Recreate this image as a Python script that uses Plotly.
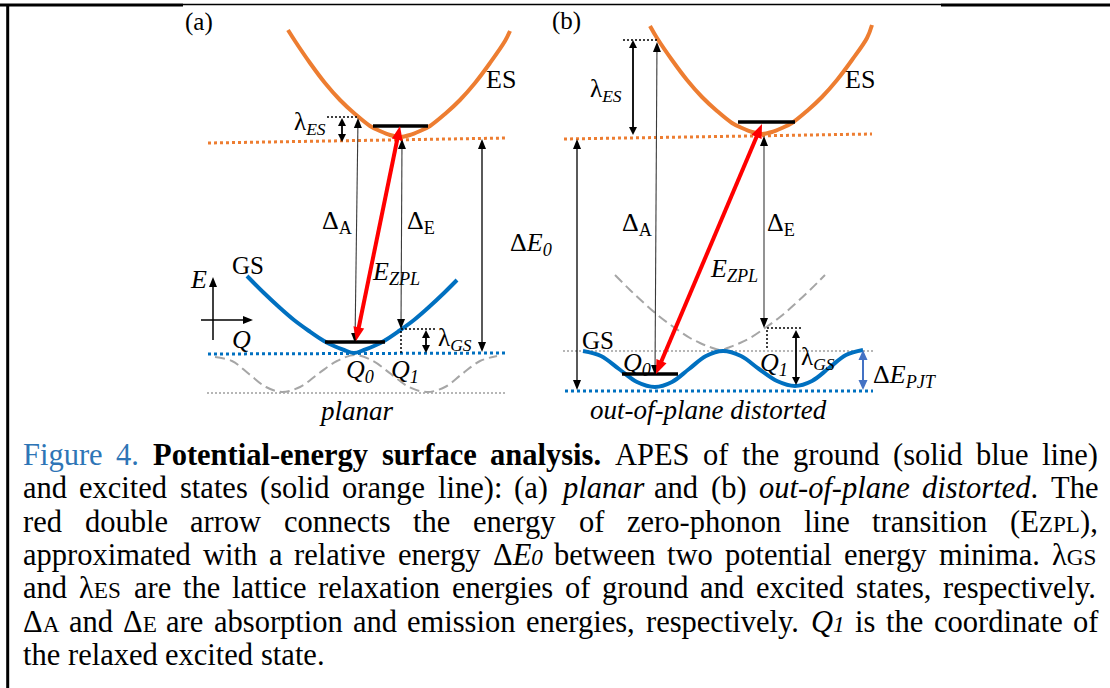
import math
import plotly.graph_objects as go

FIG_W, FIG_H = 1110, 688
SERIF = "Liberation Serif"

ORANGE = "#ED7D31"
GS_BLUE = "#0070C0"
PJT_BLUE = "#4472C4"
DASH_GREY = "#A6A6A6"
DOT_GREY = "#9E9E9E"
RED = "#FF0000"
INK = "#000000"
THIN_INK = "#3A3A3A"
CAPTION_BLUE = "#2E75B6"

# ---------------------------------------------------------------------------
# Adiabatic potential-energy curves (diagram units: Q to the right,
# energy measured downward on the page)
# ---------------------------------------------------------------------------
# (a) planar
es_planar_q = [288, 295, 310, 325, 340, 355, 370, 380, 390, 400, 410, 420, 430, 445, 460, 475, 490, 505, 510]
es_planar_e = [30, 41, 63, 83, 100, 114, 126, 131, 135, 137, 135, 131, 126, 114, 100, 83, 63, 41, 31]
gs_planar_q = [247, 264, 279, 294, 309, 324, 334, 344, 354, 364, 374, 384, 399, 414, 429, 444, 457]
gs_planar_e = [276, 293, 307, 320, 331, 341, 346, 350, 353, 350, 346, 341, 331, 320, 307, 293, 280]
dw_planar_q = [215, 232, 249, 266, 282, 300, 318, 337, 355, 373, 391, 409, 427, 445, 462, 480, 497]
dw_planar_e = [357, 361, 374, 387, 392, 387, 374, 361, 355, 361, 374, 387, 392, 387, 374, 361, 356]

# (b) out-of-plane distorted
es_dist_q = [650, 657, 672, 687, 702, 717, 732, 742, 752, 762, 772, 782, 792, 807, 822, 837, 852, 867, 872]
es_dist_e = [26, 38, 60, 80, 97, 111, 123, 128, 132, 134, 132, 128, 123, 111, 97, 80, 60, 38, 25]
gs_dist_q = [583, 601, 619, 637, 655, 672, 689, 706, 723, 741, 759, 777, 795, 812, 829, 846, 863]
gs_dist_e = [351, 356, 369, 382, 387, 382, 369, 356, 351, 356, 369, 381, 386, 381, 368, 355, 350]
pl_dist_q = [615, 630, 645, 660, 675, 690, 700, 710, 720, 730, 740, 750, 765, 780, 795, 810, 825]
pl_dist_e = [275, 290, 304, 317, 328, 338, 343, 347, 350, 347, 343, 338, 328, 317, 304, 290, 275]

# Reference levels (x0, y0, x1, y1)
es_levels = [(208, 143, 507, 138), (564, 139, 872, 134)]
gs_levels = [(208, 354, 507, 353), (565, 391, 873, 391)]
aux_levels = [(207, 393, 507, 393), (563, 351, 875, 351)]
guides = [(327, 117, 357, 117), (401, 329, 437, 329), (401, 331, 401, 353),
          (623, 40, 657, 40), (767, 328, 802, 328), (767, 330, 767, 348)]
zero_point_levels = [(373, 126, 428, 126), (325, 342, 385, 342),
                     (738, 122, 795, 122), (622, 374, 678, 374)]

# Transitions (tail -> tip, both ends headed unless noted)
abs_emi_arrows = [(355, 343, 358, 118), (402, 139, 401, 329),
                  (655, 375, 657, 42), (764, 136, 764, 328)]
de0_arrows = [(482, 139, 482, 352), (577, 139, 577, 390)]
lambda_arrows = [(342, 118, 342, 142), (426, 330, 426, 353),
                 (633, 40, 633, 135), (796, 330, 796, 385)]
zpl_arrows = [(400, 126, 356, 341), (762, 124, 656, 374)]
pjt_arrows = [(863, 350, 863, 390)]
axis_arrows = [(213, 340, 213, 277), (201, 320, 253, 320)]

# Diagram labels
diagram_labels = [
    ("(a)", 199, 22, 25), ("(b)", 566, 21, 25),
    ("ES", 501, 79, 26), ("ES", 860, 79, 26),
    ("λ<sub><i>ES</i></sub>", 310, 123, 25), ("λ<sub><i>ES</i></sub>", 606, 90, 25),
    ("Δ<sub>A</sub>", 337, 222, 26), ("Δ<sub>E</sub>", 421, 222, 26),
    ("Δ<sub>A</sub>", 637, 224, 26), ("Δ<sub>E</sub>", 781, 224, 26),
    ("Δ<i>E<sub>0</sub></i>", 531, 244, 26),
    ("<i>E<sub>ZPL</sub></i>", 396, 273, 26), ("<i>E<sub>ZPL</sub></i>", 734, 270, 26),
    ("GS", 248, 265, 25), ("GS", 598, 340, 25),
    ("<i>E</i>", 198, 279, 26), ("<i>Q</i>", 241, 339, 26),
    ("λ<sub><i>GS</i></sub>", 455, 339, 25), ("λ<sub><i>GS</i></sub>", 818, 358, 25),
    ("<i>Q<sub>0</sub></i>", 360, 371, 26), ("<i>Q<sub>1</sub></i>", 405, 371, 26),
    ("<i>Q<sub>0</sub></i>", 637, 364, 26), ("<i>Q<sub>1</sub></i>", 774, 364, 26),
    ("Δ<i>E<sub>PJT</sub></i>", 905, 376, 26),
    ("<i>planar</i>", 356, 411, 27), ("<i>out-of-plane distorted</i>", 708, 410, 27),
]

# Caption, one list per printed line; styles: r regular, b bold, i italic,
# c caption-blue, rs / is small regular / small italic
caption = [
    [("Figure", "c"), ("4.", "c"), ("Potential-energy", "b"), ("surface", "b"), ("analysis.", "b"),
     "APES", "of", "the", "ground", "(solid", "blue", "line)"],
    ["and", "excited", "states", "(solid", "orange", "line):", "(a)", ("planar", "i"), "and", "(b)",
     ("out-of-plane", "i"), [("distorted", "i"), (".", "r")], "The"],
    ["red", "double", "arrow", "connects", "the", "energy", "of", "zero-phonon", "line", "transition",
     [("(E", "r"), ("ZPL", "rs"), ("),", "r")]],
    ["approximated", "with", "a", "relative", "energy", [("Δ", "r"), ("E", "i"), ("0", "is")],
     "between", "two", "potential", "energy", "minima.", [("λ", "r"), ("GS", "rs")]],
    ["and", [("λ", "r"), ("ES", "rs")], "are", "the", "lattice", "relaxation", "energies", "of",
     "ground", "and", "excited", "states,", "respectively."],
    [[("Δ", "r"), ("A", "rs")], "and", [("Δ", "r"), ("E", "rs")], "are", "absorption", "and",
     "emission", "energies,", "respectively.", [("Q", "i"), ("1", "is")], "is", "the", "coordinate", "of"],
    ["the", "relaxed", "excited", "state."],
]

CAP_SIZE = 30.5
CAP_SMALL = 0.76
CAP_LEFT, CAP_RIGHT = 22, 1097
CAP_TOP, CAP_STEP = 455, 33.3

# Times-compatible advance widths (1/1000 em)
LOW = "abcdefghijklmnopqrstuvwxyz"
UP = "ABCDEFGHIJKLMNOPQRSTUVWXYZ"
PUN = " ()-.,:"
ADV = {
    "r": {**dict(zip(LOW, [444, 500, 444, 500, 444, 333, 500, 500, 278, 278, 500, 278, 778,
                           500, 500, 500, 500, 333, 389, 278, 500, 500, 722, 500, 500, 444])),
          **dict(zip(UP, [722, 667, 667, 722, 611, 556, 722, 722, 333, 389, 722, 611, 889,
                          722, 722, 556, 722, 667, 556, 611, 722, 722, 944, 722, 722, 611])),
          **dict(zip(PUN, [250, 333, 333, 333, 250, 250, 278])), "Δ": 612, "λ": 549},
    "b": {**dict(zip(LOW, [500, 556, 444, 556, 444, 333, 500, 556, 278, 333, 556, 278, 833,
                           556, 500, 556, 556, 444, 389, 333, 556, 500, 722, 500, 500, 444])),
          **dict(zip(UP, [722, 667, 722, 722, 667, 611, 778, 778, 389, 500, 778, 667, 944,
                          722, 778, 611, 778, 722, 556, 667, 722, 722, 1000, 722, 722, 667])),
          **dict(zip(PUN, [250, 333, 333, 333, 250, 250, 333]))},
    "i": {**dict(zip(LOW, [500, 500, 444, 500, 444, 278, 500, 500, 278, 278, 444, 278, 722,
                           500, 500, 500, 500, 389, 389, 278, 500, 444, 667, 444, 444, 389])),
          **dict(zip(UP, [611, 611, 667, 722, 611, 611, 722, 722, 333, 444, 667, 556, 833,
                          667, 722, 611, 722, 611, 500, 556, 722, 611, 833, 611, 556, 556])),
          **dict(zip(PUN, [250, 333, 333, 333, 250, 250, 333]))},
}
FACE = {"r": "r", "c": "r", "b": "b", "i": "i", "rs": "r", "is": "i"}


def segments(word):
    if isinstance(word, str):
        return [(word, "r")]
    if isinstance(word, tuple):
        return [word]
    return word


def seg_width(text, style):
    scale = CAP_SMALL if style in ("rs", "is") else 1.0
    table = ADV[FACE[style]]
    return sum(table.get(ch, 500) for ch in text) / 1000.0 * CAP_SIZE * scale


def seg_html(text, style):
    small = f"font-size:{CAP_SIZE * CAP_SMALL:.1f}px"
    if style == "b":
        return f"<b>{text}</b>"
    if style == "i":
        return f"<i>{text}</i>"
    if style == "c":
        return f"<span style='color:{CAPTION_BLUE}'>{text}</span>"
    if style == "rs":
        return f"<span style='{small}'>{text}</span>"
    if style == "is":
        return f"<i><span style='{small}'>{text}</span></i>"
    return text


fig = go.Figure()
shapes = []
annotations = []


def curve(q, e, color, width, dash=None):
    fig.add_trace(go.Scatter(x=q, y=e, mode="lines", hoverinfo="skip", showlegend=False,
                             line=dict(color=color, width=width, dash=dash,
                                       shape="spline", smoothing=1.0)))


def line(seg, color, width, dash=None, layer="above"):
    x0, y0, x1, y1 = seg
    shapes.append(dict(type="line", xref="x", yref="y", x0=x0, y0=y0, x1=x1, y1=y1,
                       layer=layer, line=dict(color=color, width=width, dash=dash)))


def head(tx, ty, ux, uy, hl, hw, color):
    bx, by = tx - ux * hl, ty - uy * hl
    nx, ny = -uy, ux
    p = (f"M {tx:.2f},{ty:.2f} L {bx + nx * hw / 2:.2f},{by + ny * hw / 2:.2f} "
         f"L {bx - nx * hw / 2:.2f},{by - ny * hw / 2:.2f} Z")
    shapes.append(dict(type="path", xref="x", yref="y", path=p, fillcolor=color,
                       line=dict(width=0), layer="above"))


def arrow(seg, color, width, hl, hw, head_color=None, start=True, end=True):
    x0, y0, x1, y1 = seg
    hc = head_color or color
    L = math.hypot(x1 - x0, y1 - y0)
    ux, uy = (x1 - x0) / L, (y1 - y0) / L
    sx, sy = (x0 + ux * hl * 0.6, y0 + uy * hl * 0.6) if start else (x0, y0)
    ex, ey = (x1 - ux * hl * 0.6, y1 - uy * hl * 0.6) if end else (x1, y1)
    line((sx, sy, ex, ey), color, width)
    if end:
        head(x1, y1, ux, uy, hl, hw, hc)
    if start:
        head(x0, y0, -ux, -uy, hl, hw, hc)


# Curves
curve(dw_planar_q, dw_planar_e, DASH_GREY, 2, "10px,5px")
curve(pl_dist_q, pl_dist_e, DASH_GREY, 2, "10px,5px")
curve(es_planar_q, es_planar_e, ORANGE, 4)
curve(es_dist_q, es_dist_e, ORANGE, 4)
curve(gs_planar_q, gs_planar_e, GS_BLUE, 4)
curve(gs_dist_q, gs_dist_e, GS_BLUE, 4)

# Levels and guides
for s in aux_levels:
    line(s, DOT_GREY, 1.3, "2px,2px", layer="below")
for s in es_levels:
    line(s, ORANGE, 3, "3px,3px", layer="below")
for s in gs_levels:
    line(s, GS_BLUE, 3, "3px,3px", layer="below")
for s in guides:
    line(s, INK, 1.5, "2px,2px")
for s in zero_point_levels:
    line(s, INK, 3.5)

# Arrows
for s in abs_emi_arrows:
    arrow(s, THIN_INK, 1.1, 10, 8, head_color=INK)
for s in de0_arrows:
    arrow(s, INK, 1.3, 10, 8)
for s in lambda_arrows:
    arrow(s, INK, 1.8, 8, 8)
for s in pjt_arrows:
    arrow(s, PJT_BLUE, 2, 10, 9)
for s in axis_arrows:
    arrow(s, INK, 1.5, 10, 8, start=False)
for s in zpl_arrows:
    arrow(s, RED, 4, 14, 11)

# Frame
line((0, 5, 183, 5), INK, 3)
line((183, 4.5, 941, 4.5), INK, 1.5)
line((941, 5, FIG_W, 5), INK, 3)
line((7.7, 4, 7.7, FIG_H), INK, 3)

# Diagram labels
for text, x, y, size in diagram_labels:
    annotations.append(dict(x=x, y=y, xref="x", yref="y", text=text, showarrow=False,
                            xanchor="center", yanchor="middle", borderpad=0,
                            font=dict(family=SERIF, size=size, color=INK)))

# Justified caption
for i, words in enumerate(caption):
    segs = [segments(w) for w in words]
    widths = [sum(seg_width(t, s) for t, s in sg) for sg in segs]
    if i < len(caption) - 1:
        gap = (CAP_RIGHT - CAP_LEFT - sum(widths)) / (len(words) - 1)
    else:
        gap = seg_width(" ", "r")
    x = CAP_LEFT
    y = CAP_TOP + i * CAP_STEP
    for sg, w in zip(segs, widths):
        html = "".join(seg_html(t, s) for t, s in sg)
        annotations.append(dict(x=x, y=y, xref="x", yref="y", text=html, showarrow=False,
                                xanchor="left", yanchor="middle", borderpad=0,
                                font=dict(family=SERIF, size=CAP_SIZE, color=INK)))
        x += w + gap

fig.update_layout(
    width=FIG_W, height=FIG_H, autosize=False,
    margin=dict(l=0, r=0, t=0, b=0, pad=0),
    paper_bgcolor="white", plot_bgcolor="white",
    xaxis=dict(range=[0, FIG_W], visible=False, fixedrange=True),
    yaxis=dict(range=[FIG_H, 0], visible=False, fixedrange=True),
    shapes=shapes, annotations=annotations, showlegend=False, hovermode=False,
)

fig.write_html("out.html", config={"displayModeBar": False, "staticPlot": True})
